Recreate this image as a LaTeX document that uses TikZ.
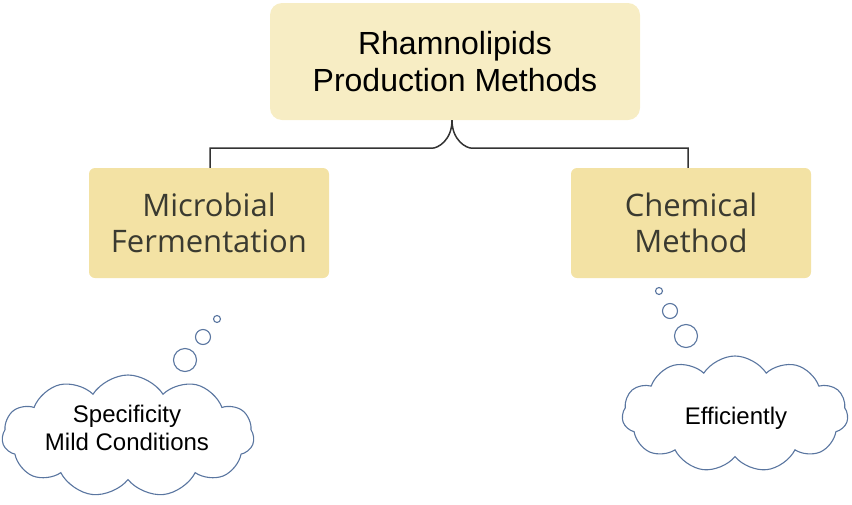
\documentclass[tikz,border=0pt]{standalone}
\usepackage{fontspec}
\setmainfont{Liberation Sans}
\newfontfamily\boxfont{Open Sans}
\usetikzlibrary{shapes.symbols}
\definecolor{topfill}{HTML}{F7EDC4}
\definecolor{subfill}{HTML}{F3E2A4}
\definecolor{subtext}{HTML}{3A3A30}
\definecolor{cloudline}{HTML}{5A76A0}
\definecolor{linkcol}{HTML}{333333}
\tikzset{
  topbox/.style={fill=topfill, rounded corners=12pt, minimum width=370pt, minimum height=117pt, align=center, font=\fontsize{32}{37}\selectfont, inner sep=0pt},
  subbox/.style={fill=subfill, rounded corners=6pt, minimum width=240pt, minimum height=110pt, align=center, text=subtext, font=\boxfont\fontsize{31}{36}\selectfont, inner sep=0pt},
  thought/.style={cloud, draw=cloudline, line width=1.1pt, fill=white, cloud puffs=11, cloud puff arc=115, aspect=2, inner sep=0pt},
  thoughttext/.style={align=center, font=\fontsize{24}{28}\selectfont, inner sep=0pt},
  bubble/.style={circle, draw=cloudline, line width=1.1pt, fill=white, inner sep=0pt},
  link/.style={draw=linkcol, line width=1.5pt}
}
\begin{document}
\begin{tikzpicture}[x=1pt,y=-1pt]
\useasboundingbox (0,0) rectangle (852,504);
\node[topbox] (top) at (455,61.5) {Rhamnolipids\\Production Methods};
\node[subbox] (mf) at (209,223) {Microbial\\Fermentation};
\node[subbox] (cm) at (691,223) {Chemical\\Method};
\draw[link] (top.south -| 452,0) .. controls +(0,20) and +(6,0) .. ++(-20,28) -- (210,148) -- (mf.north -| 210,0);
\draw[link] (top.south -| 452,0) .. controls +(0,20) and +(-6,0) .. ++(20,28) -- (688,148) -- (cm.north -| 688,0);
\node[thought, minimum width=252pt, minimum height=122pt] (c1) at (128,436) {};
\node[thoughttext] (c1t) at (127,428) {Specificity\\Mild Conditions};
\node[thought, minimum width=226pt, minimum height=116pt] (c2) at (735,414) {};
\node[thoughttext] (c2t) at (736,418) {Efficiently};
\node[bubble, minimum size=7pt] (b1) at (217,319) {};
\node[bubble, minimum size=15pt] (b2) at (203,337) {};
\node[bubble, minimum size=23pt] (b3) at (185,360) {};
\node[bubble, minimum size=7pt] (b4) at (659,291) {};
\node[bubble, minimum size=15pt] (b5) at (670,311) {};
\node[bubble, minimum size=23pt] (b6) at (686,336) {};
\end{tikzpicture}
\end{document}
